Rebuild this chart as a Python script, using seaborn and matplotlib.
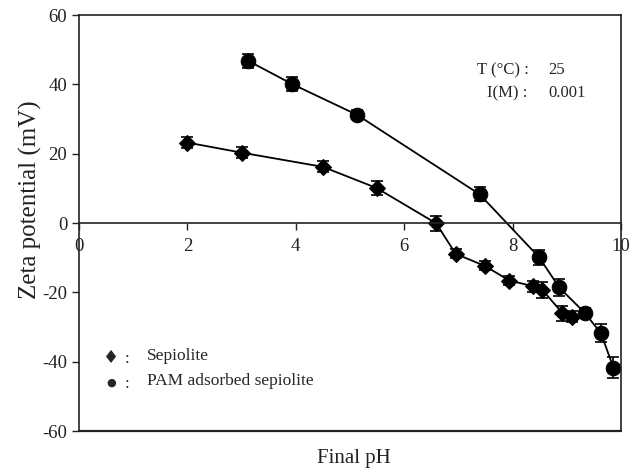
import matplotlib
matplotlib.use("Agg")
import matplotlib.pyplot as plt
import seaborn as sns
import numpy as np

# Data
sep_ph = [2.0, 3.0, 4.5, 5.49, 6.59, 6.95, 7.49, 7.94, 8.37, 8.55, 8.92, 9.10]
sep_zeta = [23.2, 20.3, 16.2, 10.1, -0.1, -8.9, -12.4, -16.6, -18.2, -19.3, -26.0, -27.0]
sep_err = [1.5, 1.5, 1.6, 2.0, 2.2, 1.3, 1.3, 1.3, 1.6, 2.2, 2.2, 1.6]

pam_ph = [3.12, 3.93, 5.13, 7.39, 8.49, 8.86, 9.33, 9.63, 9.86]
pam_zeta = [46.8, 40.1, 31.2, 8.3, -9.9, -18.6, -25.9, -31.8, -41.7]
pam_err = [2.0, 2.0, 1.3, 2.0, 2.2, 2.4, 1.3, 2.6, 3.0]

xticks = [0, 2, 4, 6, 8, 10]
yticks = [-60, -40, -20, 0, 20, 40, 60]

sns.set_style("ticks")
plt.rcParams['font.family'] = ['Liberation Serif', 'DejaVu Sans']

fig = plt.figure(figsize=(6.29, 4.70), dpi=100)
ax = fig.add_axes([79/629, 39/470, 542/629, 416/470])

sns.lineplot(x=sep_ph, y=sep_zeta, ax=ax, color='black', lw=1.3, marker='D',
             markersize=8, markeredgecolor='black', markerfacecolor='black', sort=False)
sns.lineplot(x=pam_ph, y=pam_zeta, ax=ax, color='black', lw=1.3, marker='o',
             markersize=10.5, markeredgecolor='black', markerfacecolor='black', sort=False)
ax.errorbar(sep_ph, sep_zeta, yerr=sep_err, fmt='none', ecolor='black', elinewidth=1.2, capsize=4, capthick=1.2)
ax.errorbar(pam_ph, pam_zeta, yerr=pam_err, fmt='none', ecolor='black', elinewidth=1.2, capsize=4, capthick=1.2)

ax.set_xlim(0, 10)
ax.set_ylim(-60, 60)
ax.set_xticks(xticks)
ax.set_yticks(yticks)
ax.set_xticklabels([str(t) for t in xticks])
ax.set_yticklabels([str(t) for t in yticks])

for s in ['left', 'right', 'top', 'bottom']:
    ax.spines[s].set_visible(True)
    ax.spines[s].set_color('#222222')
    ax.spines[s].set_linewidth(1.2)
ax.spines['bottom'].set_position(('data', 0))
ax.axhline(-60, color='#222222', lw=1.6, clip_on=False)

ax.tick_params(axis='both', direction='out', length=5, width=1, colors='#222222', labelsize=13.5, labelcolor='#222222')
ax.tick_params(axis='x', pad=6)

ax.set_ylabel('')
ax.set_xlabel('')
fig.text(30/629, 1 - 200/470, 'Zeta potential (mV)', rotation=90, ha='center', va='center', fontsize=18, color='#222222')
fig.text(354/629, 1 - 458/470, 'Final pH', ha='center', va='center', fontsize=15, color='#222222')

# annotation
ax.text(0.735, 0.868, 'T (°C) :', transform=ax.transAxes, fontsize=12, ha='left', va='center')
ax.text(0.866, 0.868, '25', transform=ax.transAxes, fontsize=12, ha='left', va='center')
ax.text(0.753, 0.812, 'I(M) :', transform=ax.transAxes, fontsize=12, ha='left', va='center')
ax.text(0.866, 0.812, '0.001', transform=ax.transAxes, fontsize=12, ha='left', va='center')

# legend
ax.text(0.06, 0.176, '♦', transform=ax.transAxes, fontsize=13, ha='center', va='center', family=['DejaVu Sans'])
ax.text(0.06, 0.117, '●', transform=ax.transAxes, fontsize=8, ha='center', va='center', family=['DejaVu Sans'])
ax.text(0.089, 0.172, ':', transform=ax.transAxes, fontsize=12, ha='center', va='center')
ax.text(0.089, 0.112, ':', transform=ax.transAxes, fontsize=12, ha='center', va='center')
ax.text(0.125, 0.18, 'Sepiolite', transform=ax.transAxes, fontsize=12.5, ha='left', va='center')
ax.text(0.125, 0.12, 'PAM adsorbed sepiolite', transform=ax.transAxes, fontsize=12.5, ha='left', va='center')

fig.savefig('out.png', dpi=100)
